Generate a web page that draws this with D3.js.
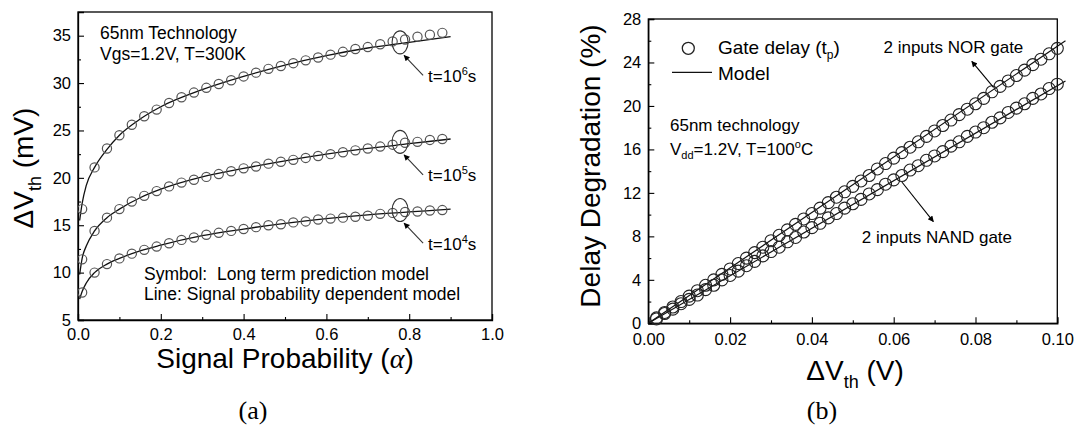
<!DOCTYPE html>
<html>
<head>
<meta charset="utf-8">
<script src="https://cdn.jsdelivr.net/npm/d3@7"></script>
<style>
body{margin:0;background:#fff;}
svg text{font-family:"Liberation Sans",Arial,sans-serif;fill:#000;}
</style>
</head>
<body>
<div id="chart"></div>
<script>
// ---- panel (a): dVth vs signal probability ----
var alpha = [0.01,0.04,0.07,0.10,0.13,0.16,0.19,0.22,0.25,0.28,0.31,0.34,0.37,0.40,0.43,
             0.46,0.49,0.52,0.55,0.58,0.61,0.64,0.67,0.70,0.73,0.76,0.79,0.82,0.85,0.88];
var dvth1e6 = [16.7,21.1,23.1,24.5,25.6,26.5,27.2,27.9,28.5,29.0,29.5,29.9,30.3,30.7,31.1,
               31.5,31.8,32.1,32.4,32.7,33.0,33.3,33.6,33.8,34.1,34.4,34.6,34.9,35.1,35.3];
var dvth1e5 = [11.4,14.4,15.8,16.7,17.5,18.1,18.6,19.1,19.5,19.8,20.1,20.4,20.7,21.0,21.2,
               21.5,21.7,21.9,22.1,22.3,22.5,22.7,22.9,23.1,23.3,23.5,23.7,23.8,24.0,24.1];
var dvth1e4 = [7.9,10.0,10.9,11.5,12.0,12.4,12.75,13.1,13.45,13.7,14.0,14.2,14.4,14.6,14.8,
               15.0,15.1,15.3,15.4,15.6,15.7,15.8,15.9,16.0,16.2,16.3,16.4,16.45,16.55,16.6];

var alphaModel = [0.004,0.01,0.02,0.04,0.07,0.1,0.15,0.2,0.3,0.4,0.5,0.6,0.7,0.8,0.9];
var model1e6 = [15.5,17.3,19.2,21.1,23.0,24.5,26.2,27.5,29.3,30.7,31.9,32.9,33.7,34.3,34.9];
var model1e5 = [9.8,11.5,12.8,14.4,15.8,16.7,17.9,18.8,20.1,21.0,21.8,22.5,23.1,23.6,24.1];
var model1e4 = [7.2,8.0,8.9,10.0,10.9,11.5,12.3,12.9,13.9,14.6,15.2,15.7,16.1,16.4,16.7];

var calloutAlpha = 0.778;
var calloutVals = [34.3, 23.8, 16.6];
var calloutExp = ["6", "5", "4"];

var xTicksA = [0,0.2,0.4,0.6,0.8,1.0];
var xMinorA = [0.1,0.3,0.5,0.7,0.9];
var yTicksA = [5,10,15,20,25,30,35];
var yMinorA = [7.5,12.5,17.5,22.5,27.5,32.5];

// ---- panel (b): delay degradation vs dVth ----
var dv = [0.002,0.004,0.006,0.008,0.010,0.012,0.014,0.016,0.018,0.020,
          0.022,0.024,0.026,0.028,0.030,0.032,0.034,0.036,0.038,0.040,
          0.042,0.044,0.046,0.048,0.050,0.052,0.054,0.056,0.058,0.060,
          0.062,0.064,0.066,0.068,0.070,0.072,0.074,0.076,0.078,0.080,
          0.082,0.084,0.086,0.088,0.090,0.092,0.094,0.096,0.098,0.100];
var norDelay = [0.5,1.0,1.5,2.0,2.5,3.0,3.5,4.0,4.5,5.0,
                5.5,6.0,6.5,7.0,7.6,8.1,8.6,9.1,9.6,10.1,
                10.6,11.1,11.6,12.1,12.6,13.1,13.6,14.2,14.7,15.2,
                15.7,16.2,16.7,17.2,17.7,18.2,18.7,19.2,19.7,20.2,
                20.7,21.3,21.8,22.3,22.8,23.3,23.8,24.3,24.8,25.3];
var nandDelay = [0.4,0.9,1.3,1.8,2.2,2.6,3.1,3.5,4.0,4.4,
                 4.8,5.3,5.7,6.2,6.6,7.0,7.5,7.9,8.4,8.8,
                 9.2,9.7,10.1,10.6,11.0,11.4,11.9,12.3,12.8,13.2,
                 13.6,14.1,14.5,15.0,15.4,15.8,16.3,16.7,17.2,17.6,
                 18.0,18.5,18.9,19.4,19.8,20.2,20.7,21.1,21.6,22.0];
var dvModel = [0, 0.102];
var norModel = [0, 26.0];
var nandModel = [0, 22.3];

var xTicksB = [0,0.02,0.04,0.06,0.08,0.10];
var xMinorB = [0.01,0.03,0.05,0.07,0.09];
var yTicksB = [0,4,8,12,16,20,24,28];
var yMinorB = [2,6,10,14,18,22,26];

var svg = d3.select('#chart').append('svg')
    .attr('width', 1079).attr('height', 427);

var defs = svg.append('defs');
defs.append('marker')
    .attr('id', 'arrow')
    .attr('viewBox', '0 0 10 10')
    .attr('refX', 9).attr('refY', 5)
    .attr('markerWidth', 8).attr('markerHeight', 6)
    .attr('markerUnits', 'userSpaceOnUse')
    .attr('orient', 'auto')
    .append('path').attr('d', 'M0,0L10,5L0,10z').attr('fill', '#000');

function drawAxes(g, x, y, w, h, xt, xm, yt, ym, xf, yf, xpad) {
    g.append('rect').attr('width', w).attr('height', h)
        .attr('fill', 'none').attr('stroke', '#000').attr('stroke-width', 1.3);

    g.append('g').attr('transform', 'translate(0,' + h + ')')
        .call(d3.axisBottom(x).tickValues(xt).tickSize(-6).tickPadding(xpad).tickFormat(xf));
    g.append('g').attr('transform', 'translate(0,' + h + ')')
        .call(d3.axisBottom(x).tickValues(xm).tickSize(-3).tickFormat(''))
        .select('.domain').remove();
    g.append('g')
        .call(d3.axisLeft(y).tickValues(yt).tickSize(-6).tickPadding(7).tickFormat(yf));
    g.append('g')
        .call(d3.axisLeft(y).tickValues(ym).tickSize(-3).tickFormat(''))
        .select('.domain').remove();

    g.selectAll('.domain').attr('stroke-width', 1.3);
    g.selectAll('.tick line').attr('stroke-width', 1.1);
    g.selectAll('.tick text').style('font-size', '16.5px')
        .style('font-family', '"Liberation Sans",Arial,sans-serif');
}

// ================= panel (a) =================
var wA = 414, hA = 308;
var gA = svg.append('g').attr('transform', 'translate(78,12)');
var xA = d3.scaleLinear().domain([0, 1]).range([0, wA]);
var yA = d3.scaleLinear().domain([5, 37.5]).range([hA, 0]);

drawAxes(gA, xA, yA, wA, hA, xTicksA, xMinorA, yTicksA, yMinorA, d3.format('.1f'), d3.format('d'), 8);

var lineA = d3.line()
    .x(function(d) { return xA(d[0]); })
    .y(function(d) { return yA(d[1]); })
    .curve(d3.curveMonotoneX);

[model1e6, model1e5, model1e4].forEach(function(m) {
    gA.append('path')
        .datum(alphaModel.map(function(a, i) { return [a, m[i]]; }))
        .attr('fill', 'none').attr('stroke', '#111').attr('stroke-width', 1.3)
        .attr('d', lineA);
});

[dvth1e6, dvth1e5, dvth1e4].forEach(function(s) {
    gA.append('g').selectAll('circle')
        .data(alpha.map(function(a, i) { return [a, s[i]]; }))
        .enter().append('circle')
        .attr('cx', function(d) { return xA(d[0]); })
        .attr('cy', function(d) { return yA(d[1]); })
        .attr('r', 4.6)
        .attr('fill', 'none').attr('stroke', '#555').attr('stroke-width', 1.2);
});

// callout loops, arrows and labels
calloutVals.forEach(function(v, i) {
    var cx = xA(calloutAlpha), cy = yA(v);
    gA.append('ellipse').attr('cx', cx).attr('cy', cy)
        .attr('rx', 8).attr('ry', 11.5)
        .attr('fill', 'none').attr('stroke', '#333').attr('stroke-width', 1.1);
    gA.append('line')
        .attr('x1', cx + 23).attr('y1', cy + 33)
        .attr('x2', cx + 4).attr('y2', cy + 13)
        .attr('stroke', '#333').attr('stroke-width', 1.1)
        .attr('marker-end', 'url(#arrow)');
    var t = gA.append('text').attr('x', cx + 28).attr('y', cy + 39.5)
        .style('font-size', '17px');
    t.append('tspan').text('t=10');
    t.append('tspan').attr('dy', -7).style('font-size', '11px').text(calloutExp[i]);
    t.append('tspan').attr('dy', 7).text('s');
});

svg.append('text').attr('x', 100).attr('y', 39).style('font-size', '17.5px').text('65nm Technology');
svg.append('text').attr('x', 100).attr('y', 60).style('font-size', '17.5px').text('Vgs=1.2V, T=300K');
svg.append('text').attr('x', 144).attr('y', 280).style('font-size', '17.5px')
    .style('white-space', 'pre').text('Symbol:  Long term prediction model');
svg.append('text').attr('x', 144).attr('y', 300).style('font-size', '17.5px')
    .text('Line: Signal probability dependent model');

var xtA = svg.append('text').attr('x', 285).attr('y', 368)
    .attr('text-anchor', 'middle').style('font-size', '28px');
xtA.append('tspan').text('Signal Probability (');
xtA.append('tspan').style('font-family', '"Liberation Serif",serif').style('font-style', 'italic').text('α');
xtA.append('tspan').text(')');

var ytA = svg.append('text').attr('transform', 'translate(33,168) rotate(-90)')
    .attr('text-anchor', 'middle').style('font-size', '28px');
ytA.append('tspan').text('ΔV');
ytA.append('tspan').attr('dy', 8).style('font-size', '18px').text('th');
ytA.append('tspan').attr('dy', -8).text(' (mV)');

svg.append('text').attr('x', 253).attr('y', 419).attr('text-anchor', 'middle')
    .style('font-family', '"Liberation Serif",serif').style('font-size', '26px').text('(a)');

// ================= panel (b) =================
var wB = 409, hB = 304.3;
var gB = svg.append('g').attr('transform', 'translate(648.3,19)');
var xB = d3.scaleLinear().domain([0, 0.1]).range([0, wB]);
var yB = d3.scaleLinear().domain([0, 28]).range([hB, 0]);

drawAxes(gB, xB, yB, wB, hB, xTicksB, xMinorB, yTicksB, yMinorB, d3.format('.2f'), d3.format('d'), 10);

var lineB = d3.line()
    .x(function(d) { return xB(d[0]); })
    .y(function(d) { return yB(d[1]); });

[norModel, nandModel].forEach(function(m) {
    gB.append('path')
        .datum(dvModel.map(function(a, i) { return [a, m[i]]; }))
        .attr('fill', 'none').attr('stroke', '#111').attr('stroke-width', 1.2)
        .attr('d', lineB);
});

[norDelay, nandDelay].forEach(function(s) {
    gB.append('g').selectAll('circle')
        .data(dv.map(function(a, i) { return [a, s[i]]; }))
        .enter().append('circle')
        .attr('cx', function(d) { return xB(d[0]); })
        .attr('cy', function(d) { return yB(d[1]); })
        .attr('r', 6)
        .attr('fill', 'none').attr('stroke', '#222').attr('stroke-width', 1.1);
});

// gate label arrows
gB.append('line')
    .attr('x1', xB(0.0844)).attr('y1', yB(21.7))
    .attr('x2', xB(0.0791)).attr('y2', yB(24.1))
    .attr('stroke', '#000').attr('stroke-width', 1.1).attr('marker-end', 'url(#arrow)');
gB.append('line')
    .attr('x1', xB(0.062)).attr('y1', yB(13.0))
    .attr('x2', xB(0.0697)).attr('y2', yB(9.36))
    .attr('stroke', '#000').attr('stroke-width', 1.1).attr('marker-end', 'url(#arrow)');
gB.append('text').attr('x', xB(0.0575)).attr('y', yB(24.87))
    .style('font-size', '17px').text('2 inputs NOR gate');
gB.append('text').attr('x', xB(0.0522)).attr('y', yB(7.37))
    .style('font-size', '17px').text('2 inputs NAND gate');

// legend
svg.append('circle').attr('cx', 688.3).attr('cy', 48.3).attr('r', 6)
    .attr('fill', 'none').attr('stroke', '#222').attr('stroke-width', 1.3);
var lg = svg.append('text').attr('x', 718).attr('y', 54).style('font-size', '19px');
lg.append('tspan').text('Gate delay (t');
lg.append('tspan').attr('dy', 5).style('font-size', '12px').text('p');
lg.append('tspan').attr('dy', -5).text(')');
svg.append('line').attr('x1', 672).attr('x2', 712).attr('y1', 72.3).attr('y2', 72.3)
    .attr('stroke', '#111').attr('stroke-width', 1.3);
svg.append('text').attr('x', 718).attr('y', 80).style('font-size', '19px').text('Model');

svg.append('text').attr('x', 670).attr('y', 131).style('font-size', '17px').text('65nm technology');
var cond = svg.append('text').attr('x', 670).attr('y', 155).style('font-size', '17px');
cond.append('tspan').text('V');
cond.append('tspan').attr('dy', 4).style('font-size', '11px').text('dd');
cond.append('tspan').attr('dy', -4).text('=1.2V, T=100');
cond.append('tspan').attr('dy', -7).style('font-size', '11px').text('o');
cond.append('tspan').attr('dy', 7).text('C');

var xtB = svg.append('text').attr('x', 855).attr('y', 380)
    .attr('text-anchor', 'middle').style('font-size', '28px');
xtB.append('tspan').text('ΔV');
xtB.append('tspan').attr('dy', 8).style('font-size', '18px').text('th');
xtB.append('tspan').attr('dy', -8).text(' (V)');

svg.append('text').attr('transform', 'translate(600,166) rotate(-90)')
    .attr('text-anchor', 'middle').style('font-size', '28px').text('Delay Degradation (%)');

svg.append('text').attr('x', 822).attr('y', 419).attr('text-anchor', 'middle')
    .style('font-family', '"Liberation Serif",serif').style('font-size', '26px').text('(b)');
</script>
</body>
</html>
